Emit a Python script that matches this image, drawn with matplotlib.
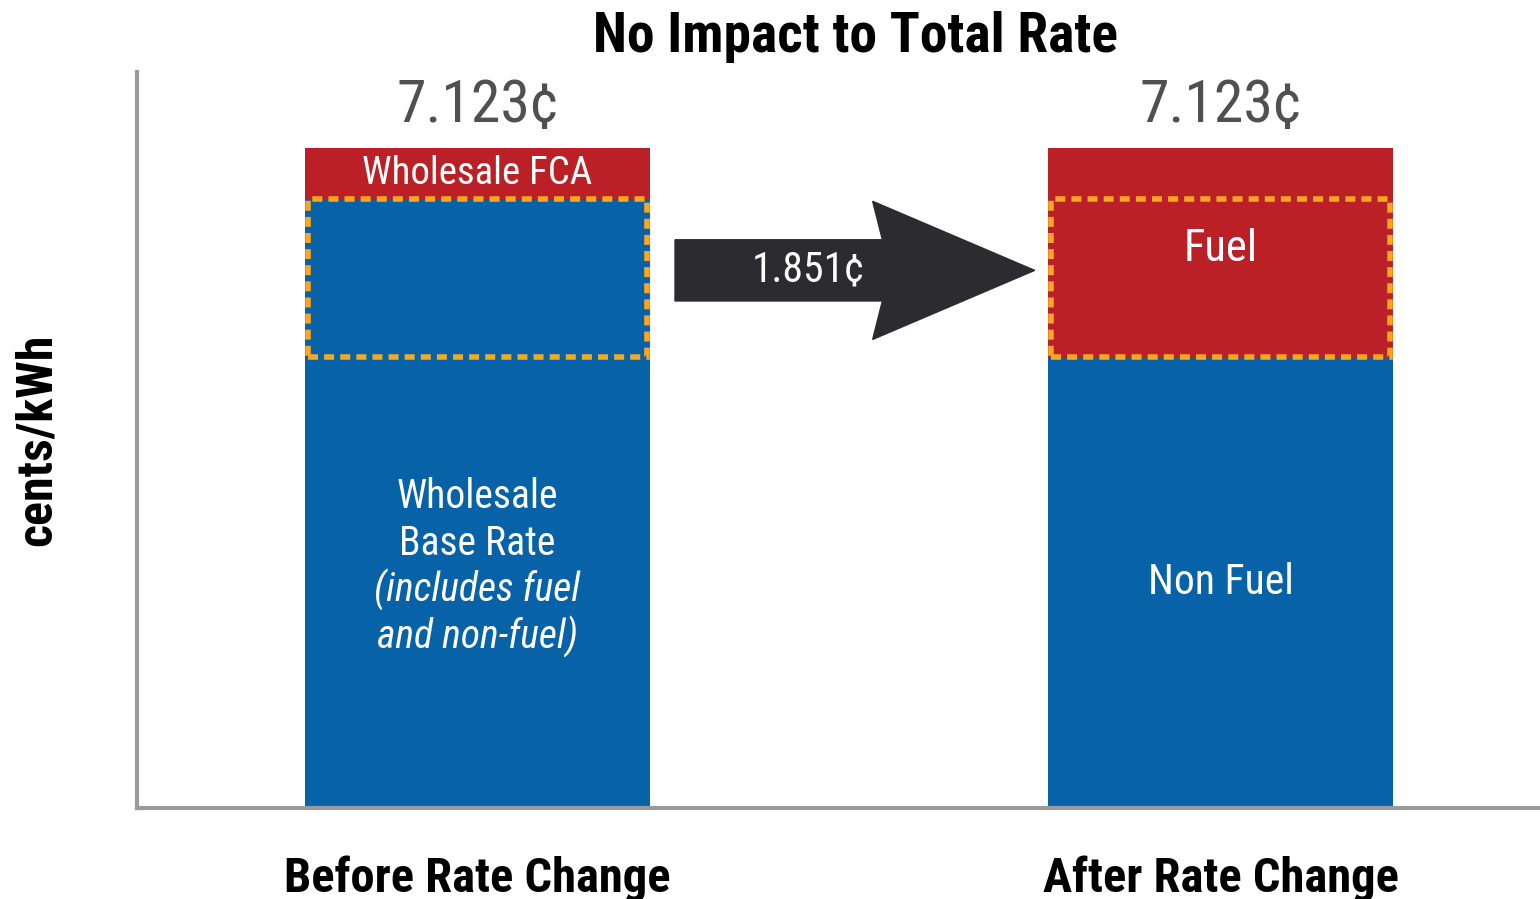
import matplotlib.pyplot as plt
from matplotlib.patches import Rectangle, FancyArrow

plt.rcParams["font.family"] = ["Roboto Condensed", "DejaVu Sans"]
plt.rcParams["font.stretch"] = "condensed"

# data (cents/kWh)
categories = ["Before Rate Change", "After Rate Change"]
totals = [7.123, 7.123]
non_fuel = [4.87, 4.87]
fuel = [1.70, 1.70]
fca = [0.553, 0.553]
moved_label = "1.851¢"

BLUE = "#0762A8"
RED = "#BA2025"
ORANGE = "#FAA61F"
ARROW = "#2B2B30"
SPINE = "#9A9A9A"

W, H = 1540, 899
fig = plt.figure(figsize=(W / 100, H / 100), dpi=100)
ax = fig.add_axes([137 / W, 1 - 808 / H, 1 - 137 / W, (808 - 72) / H])

x = [0, 1]
width = 0.464

# before: base rate (fuel + non fuel) all blue, FCA on top
base = [non_fuel[0] + fuel[0]]
ax.bar(x[0], base[0], width, color=BLUE, zorder=2)
ax.bar(x[0], fca[0], width, bottom=base[0], color=RED, zorder=2)

# after: non fuel blue, fuel red, rest red
ax.bar(x[1], non_fuel[1], width, color=BLUE, zorder=2)
ax.bar(x[1], fuel[1], width, bottom=non_fuel[1], color=RED, zorder=2)
ax.bar(x[1], fca[1], width, bottom=non_fuel[1] + fuel[1], color=RED, zorder=2)

# dashed boxes around the fuel part
for i in range(2):
    ax.add_patch(Rectangle((x[i] - width / 2 + 0.004, non_fuel[i]), width - 0.008, fuel[i],
                           fill=False, edgecolor=ORANGE, lw=4.0,
                           linestyle=(0, (1.8, 1.1)), zorder=3))

# totals
for i in range(2):
    ax.text(x[i], totals[i] + 0.28, f"{totals[i]:.3f}¢", ha="center", va="baseline",
            fontsize=43, color="#505050")

# segment labels
ax.text(x[0], base[0] + fca[0] / 2, "Wholesale FCA", ha="center", va="center",
        fontsize=28, color="white", zorder=4)
lines = ["Wholesale", "Base Rate", "(includes fuel", "and non-fuel)"]
styles = ["normal", "normal", "italic", "italic"]
mid = 2.60
for k, (txt, st) in enumerate(zip(lines, styles)):
    ax.text(x[0], mid + (1.5 - k) * 0.507, txt, ha="center", va="center",
            fontsize=28.5, style=st, color="white", zorder=4)
ax.text(x[1], non_fuel[1] + fuel[1] * 0.68, "Fuel", ha="center", va="center",
        fontsize=32, color="white", zorder=4)
ax.text(x[1], non_fuel[1] / 2, "Non Fuel", ha="center", va="center",
        fontsize=30, color="white", zorder=4)

# arrow
arrow_y = 5.80
ax.add_patch(FancyArrow(0.266, arrow_y, 0.484, 0, width=0.66, head_width=1.49,
                        head_length=0.218, length_includes_head=True, overhang=0.06,
                        color=ARROW, zorder=3))
ax.text(0.445, arrow_y, moved_label, ha="center", va="center", fontsize=30,
        color="white", zorder=4)

ax.set_xlim(-0.458, 1.430)
ax.set_ylim(0, 7.94)
ax.set_xticks(x, categories)
ax.tick_params(axis="x", length=0, pad=34, labelsize=35)
for lab in ax.get_xticklabels():
    lab.set_fontweight("bold")
ax.set_yticks([])
for side in ["top", "right"]:
    ax.spines[side].set_visible(False)
for side in ["left", "bottom"]:
    ax.spines[side].set_color(SPINE)
    ax.spines[side].set_linewidth(3)

fig.text(855 / W, 1 - 37 / H, "No Impact to Total Rate", ha="center", va="center",
         fontsize=40, fontweight="bold")
fig.text(37 / W, 1 - 440 / H, "cents/kWh", ha="center", va="center", rotation=90,
         fontsize=36, fontweight="bold")

fig.savefig("out.png", dpi=100)
